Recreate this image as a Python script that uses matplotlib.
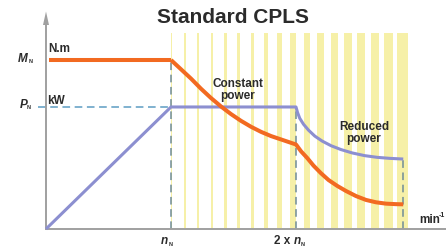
import matplotlib.pyplot as plt
from matplotlib.patches import Polygon

# speed in multiples of n_N, torque/power as a fraction of M_N
torque_n = [0.0, 1.0, 1.08, 1.16, 1.24, 1.32, 1.40, 1.48, 1.56, 1.64, 1.72,
            1.80, 1.88, 1.96, 2.0, 2.04, 2.09, 2.14, 2.20, 2.26, 2.33, 2.40,
            2.48, 2.56, 2.64, 2.72, 2.80, 2.858]
torque_v = [1.0, 1.0, 0.945, 0.89, 0.83, 0.775, 0.725, 0.68, 0.64, 0.605,
            0.575, 0.55, 0.53, 0.51, 0.5, 0.46, 0.42, 0.375, 0.33, 0.29,
            0.255, 0.225, 0.195, 0.172, 0.158, 0.150, 0.147, 0.146]
power_n = [0.0, 1.0, 2.0, 2.012, 2.03, 2.06, 2.10, 2.15, 2.21, 2.28, 2.36,
           2.45, 2.55, 2.65, 2.75, 2.858]
power_v = [0.0, 0.722, 0.722, 0.69, 0.655, 0.62, 0.585, 0.55, 0.52, 0.493,
           0.47, 0.45, 0.434, 0.424, 0.418, 0.414]
P_N = 0.722
n_end = 2.858
p_end = 0.414

# yellow stripes (left edge, width) in n_N units
stripe_left = [0.997, 1.104, 1.206, 1.318, 1.424, 1.530, 1.638, 1.744, 1.850,
               1.952, 2.064, 2.170, 2.278, 2.384, 2.490, 2.598, 2.704, 2.810]
stripe_w = [0.011, 0.014, 0.021, 0.021, 0.024, 0.024, 0.029, 0.034, 0.040,
            0.046, 0.048, 0.054, 0.056, 0.062, 0.064, 0.069, 0.070, 0.086]
stripe_top = 1.16

W, H = 446, 250
X0, Y0, SX, SY = 46, 229, 125, 169   # pixel of origin and scale


def fx(px):
    return px / W


def fy(py):
    return 1 - py / H


fig = plt.figure(figsize=(4.46, 2.5), dpi=100)
ax = fig.add_axes([0, 0, 1, 1])
ax.set_xlim(-X0 / SX, (W - X0) / SX)
ax.set_ylim(-(H - Y0) / SY, Y0 / SY)
ax.axis("off")

yellow = "#f6f0a8"
for left, w in zip(stripe_left, stripe_w):
    ax.fill_between([left, left + w], 0, stripe_top, color=yellow, lw=0, zorder=1)

dash_v = "#6f8c98"
dash_h = "#5d9cc2"
ax.plot([1, 1], [0, 1.0], color=dash_v, lw=1.1, ls=(0, (5, 3)), zorder=2)
ax.plot([2.0, 2.0], [0, P_N], color=dash_v, lw=1.1, ls=(0, (5, 3)), zorder=2)
ax.plot([n_end, n_end], [0, p_end], color=dash_v, lw=1.1, ls=(0, (5, 3)), zorder=2)
ax.plot([-0.064, 1], [P_N, P_N], color=dash_h, lw=1.1, ls=(0, (5, 3)), zorder=2)

grey = "#a0a0a0"
ax.plot([0, (W - X0) / SX], [0, 0], color=grey, lw=1.4, zorder=3)
ax.plot([0, 0], [0, (Y0 - 24) / SY], color=grey, lw=1.4, zorder=3)
ax.add_patch(Polygon([[-3 / SX, (Y0 - 25) / SY], [3 / SX, (Y0 - 25) / SY],
                      [0, (Y0 - 11.5) / SY]], closed=True, color=grey, lw=0,
                     zorder=3))

ax.plot(power_n, power_v, color="#8c8fd0", lw=2.2, solid_capstyle="butt",
        solid_joinstyle="round", zorder=4)
ax.plot(torque_n[1:], torque_v[1:], color="#f26a21", lw=2.9,
        solid_capstyle="butt", solid_joinstyle="round", zorder=5)
ax.plot([0.02, 1.0], [1.0, 1.0], color="#f26a21", lw=2.9,
        solid_capstyle="butt", zorder=5)

txt = "#2b2b2b"
narrow = ["Liberation Sans Narrow", "Liberation Sans"]
bold = dict(color=txt, fontweight="bold")

fig.text(fx(233), fy(17), "Standard CPLS", ha="center", va="center",
         fontsize=15, family="Liberation Sans", **bold)

fig.text(fx(238), fy(90), "Constant\npower", ha="center", va="center",
         fontsize=8.5, family=narrow, linespacing=0.9, **bold)
fig.text(fx(364), fy(133), "Reduced\npower", ha="center", va="center",
         fontsize=8.5, family=narrow, linespacing=0.9, **bold)

fig.text(fx(48), fy(52), "N.m", ha="left", va="baseline", fontsize=8.5,
         family=narrow, **bold)
fig.text(fx(47), fy(104), "kW", ha="left", va="baseline", fontsize=8.5,
         family=narrow, **bold)

# axis symbols with subscripts
fig.text(fx(18), fy(62), "M", ha="left", va="baseline", fontsize=8.5,
         style="italic", family="Liberation Sans", **bold)
fig.text(fx(28.5), fy(63), "N", ha="left", va="baseline", fontsize=4,
         family="Liberation Sans", **bold)
fig.text(fx(20), fy(108), "P", ha="left", va="baseline", fontsize=8.5,
         style="italic", family="Liberation Sans", **bold)
fig.text(fx(26.5), fy(109), "N", ha="left", va="baseline", fontsize=4,
         family="Liberation Sans", **bold)

fig.text(fx(168), fy(244), "n", ha="right", va="baseline", fontsize=8.5,
         style="italic", family="Liberation Sans", **bold)
fig.text(fx(168.5), fy(246), "N", ha="left", va="baseline", fontsize=4,
         family="Liberation Sans", **bold)
fig.text(fx(294), fy(244), "2 x ", ha="right", va="baseline", fontsize=8.5,
         family=narrow, **bold)
fig.text(fx(294), fy(244), "n", ha="left", va="baseline", fontsize=8.5,
         style="italic", family="Liberation Sans", **bold)
fig.text(fx(301), fy(246), "N", ha="left", va="baseline", fontsize=4,
         family="Liberation Sans", **bold)

fig.text(fx(419), fy(223), "min", ha="left", va="baseline", fontsize=8.5,
         family=narrow, **bold)
fig.text(fx(438.5), fy(217), "-1", ha="left", va="baseline", fontsize=5,
         family=narrow, **bold)

fig.savefig("out.png", dpi=100)
